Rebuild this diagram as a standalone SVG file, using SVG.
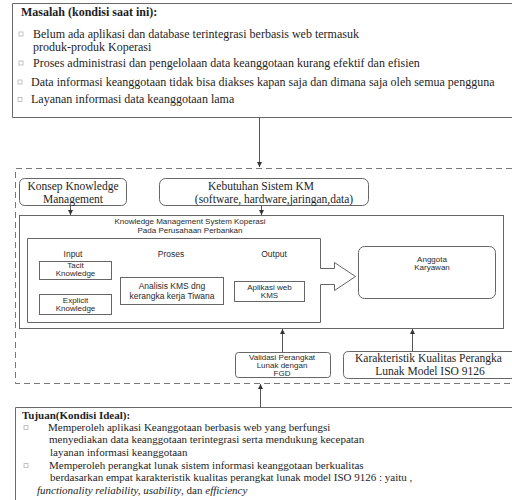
<svg xmlns="http://www.w3.org/2000/svg" width="512" height="500" viewBox="0 0 512 500">
<defs>
<style>
.frame{fill:none;stroke:#6a6a6a;stroke-width:1}
.box{fill:#fff;stroke:#666;stroke-width:1}
.dash{fill:none;stroke:#777;stroke-width:1;stroke-dasharray:6 4}
.conn{fill:none;stroke:#555;stroke-width:1}
.chk{fill:#fff;stroke:#b5b5b5;stroke-width:0.8}
.serif{font-family:"Liberation Serif","Times New Roman",serif;fill:#1e1e1e}
.sans{font-family:"Liberation Sans",Arial,sans-serif;fill:#2a2a2a}
.t12{font-size:12px}
.t11{font-size:11px}
.hd{font-size:12px;font-weight:bold}
.hd2{font-size:11px;font-weight:bold}
.big{font-size:11.5px}
.s8{font-size:8px}
.s85{font-size:8.5px}
.mid{text-anchor:middle}
.it{font-style:italic}
</style>
<marker id="ah" markerWidth="6" markerHeight="6" refX="5" refY="3" orient="auto" markerUnits="userSpaceOnUse">
<path d="M0,0.5 L5,3 L0,5.5 Z" fill="#333"/>
</marker>
</defs>
<rect width="512" height="500" fill="#fff"/>

<g id="masalah">
<path class="frame" d="M512 3.5 H12.5 V117.5 H512"/>
<text class="serif hd" x="21" y="16">Masalah (kondisi saat ini):</text>
<rect class="chk" x="19" y="32" width="4" height="4"/>
<text class="serif t12" x="33" y="37.5">Belum ada aplikasi dan database terintegrasi berbasis web termasuk</text>
<text class="serif t12" x="33" y="50.5">produk-produk Koperasi</text>
<rect class="chk" x="19" y="61" width="4" height="4"/>
<text class="serif t12" x="33" y="67">Proses administrasi dan pengelolaan data keanggotaan kurang efektif dan efisien</text>
<rect class="chk" x="18" y="80" width="4" height="4"/>
<text class="serif t12" x="31" y="86">Data informasi keanggotaan tidak bisa diakses kapan saja dan dimana saja oleh semua pengguna</text>
<rect class="chk" x="18" y="97.5" width="4" height="4"/>
<text class="serif t12" x="31" y="103">Layanan informasi data keanggotaan lama</text>
</g>

<g id="kerangka">
<path class="dash" d="M512 168.5 H15.5 V383.5 H512"/>
</g>

<g id="konsep">
<rect class="box" x="19.5" y="178.5" width="107" height="27" rx="5"/>
<text class="serif big mid" x="73" y="189.5">Konsep Knowledge</text>
<text class="serif big mid" x="73" y="202.5">Management</text>
</g>

<g id="kebutuhan">
<rect class="box" x="159.5" y="178.5" width="209" height="27" rx="6"/>
<text class="serif big mid" x="261" y="189.5">Kebutuhan Sistem KM</text>
<text class="serif big mid" x="274" y="202.5">(software, hardware,jaringan,data)</text>
</g>

<g id="kms">
<rect class="box" x="19.5" y="215.5" width="484" height="113"/>
<text class="sans s8 mid" x="190" y="223.5">Knowledge Management System Koperasi</text>
<text class="sans s8 mid" x="190" y="232.5">Pada Perusahaan Perbankan</text>
</g>

<g id="proses-kms">
<path class="box" d="M320.5 268.5 V238.5 H27.5 V322.5 H320.5 V284.5 H334.5 V290.5 L355.5 276.5 L334.5 262.5 V268.5 Z"/>
<text class="sans s85 mid" x="73" y="257">Input</text>
<text class="sans s85 mid" x="171" y="257">Proses</text>
<text class="sans s85 mid" x="274" y="257">Output</text>
</g>

<g id="tacit">
<rect class="box" x="39.5" y="261.5" width="72" height="18"/>
<text class="sans s8 mid" x="75.5" y="268">Tacit</text>
<text class="sans s8 mid" x="75.5" y="276">Knowledge</text>
</g>

<g id="explicit">
<rect class="box" x="39.5" y="294.5" width="72" height="20"/>
<text class="sans s8 mid" x="75.5" y="303">Explicit</text>
<text class="sans s8 mid" x="75.5" y="311">Knowledge</text>
</g>

<g id="analisis">
<rect class="box" x="120.5" y="277.5" width="103" height="27"/>
<text class="sans s85 mid" x="172" y="289">Analisis KMS dng</text>
<text class="sans s85 mid" x="172" y="298.5">kerangka kerja Tiwana</text>
</g>

<g id="aplikasi">
<rect class="box" x="234.5" y="281.5" width="70" height="20"/>
<text class="sans s8 mid" x="269.5" y="290">Aplikasi web</text>
<text class="sans s8 mid" x="269.5" y="298">KMS</text>
</g>

<g id="anggota">
<rect class="box" x="358.5" y="246.5" width="137" height="52" rx="6"/>
<text class="sans s8 mid" x="432" y="262">Anggota</text>
<text class="sans s8 mid" x="432" y="270">Karyawan</text>
</g>

<g id="validasi">
<rect class="box" x="235.5" y="352.5" width="95" height="25" rx="3"/>
<text class="sans s8 mid" x="282" y="360">Validasi Perangkat</text>
<text class="sans s8 mid" x="282" y="368">Lunak dengan</text>
<text class="sans s8 mid" x="282" y="376">FGD</text>
</g>

<g id="karakteristik">
<path class="box" d="M512 351.5 H348.5 Q343.5 351.5 343.5 356.5 V373.5 Q343.5 378.5 348.5 378.5 H512"/>
<text class="serif big" x="355" y="362">Karakteristik Kualitas Perangka</text>
<text class="serif big mid" x="430" y="375">Lunak Model ISO 9126</text>
</g>

<g id="tujuan">
<path class="frame" d="M512 407.5 H15.5 V500"/>
<text class="serif hd2" x="22" y="418.5">Tujuan(Kondisi Ideal):</text>
<rect class="chk" x="24" y="425.5" width="4" height="4"/>
<text class="serif t11" x="48" y="430.5">Memperoleh aplikasi  Keanggotaan  berbasis web  yang berfungsi</text>
<text class="serif t11" x="49" y="443.2">menyediakan data keanggotaan terintegrasi serta mendukung kecepatan</text>
<text class="serif t11" x="50" y="455.9">layanan informasi keanggotaan</text>
<rect class="chk" x="24" y="463.5" width="4" height="4"/>
<text class="serif t11" x="49" y="468.6">Memperoleh perangkat lunak sistem informasi keanggotaan berkualitas</text>
<text class="serif t11" x="50" y="481.3">berdasarkan empat karakteristik kualitas perangkat lunak model ISO 9126 : yaitu  ,</text>
<text class="serif t11" x="37" y="494"><tspan class="it">functionality reliability, usability</tspan>, dan <tspan class="it">efficiency</tspan></text>
</g>

<g id="connectors">
<line class="conn" x1="259.5" y1="117.5" x2="259.5" y2="167" marker-end="url(#ah)"/>
<line class="conn" x1="70.5" y1="205.5" x2="70.5" y2="215" marker-end="url(#ah)"/>
<line class="conn" x1="261.5" y1="205.5" x2="261.5" y2="215" marker-end="url(#ah)"/>
<line class="conn" x1="282.5" y1="352.5" x2="282.5" y2="329" marker-end="url(#ah)"/>
<line class="conn" x1="412.5" y1="351.5" x2="412.5" y2="329" marker-end="url(#ah)"/>
<line class="conn" x1="260.5" y1="407.5" x2="260.5" y2="384" marker-end="url(#ah)"/>
</g>
</svg>
